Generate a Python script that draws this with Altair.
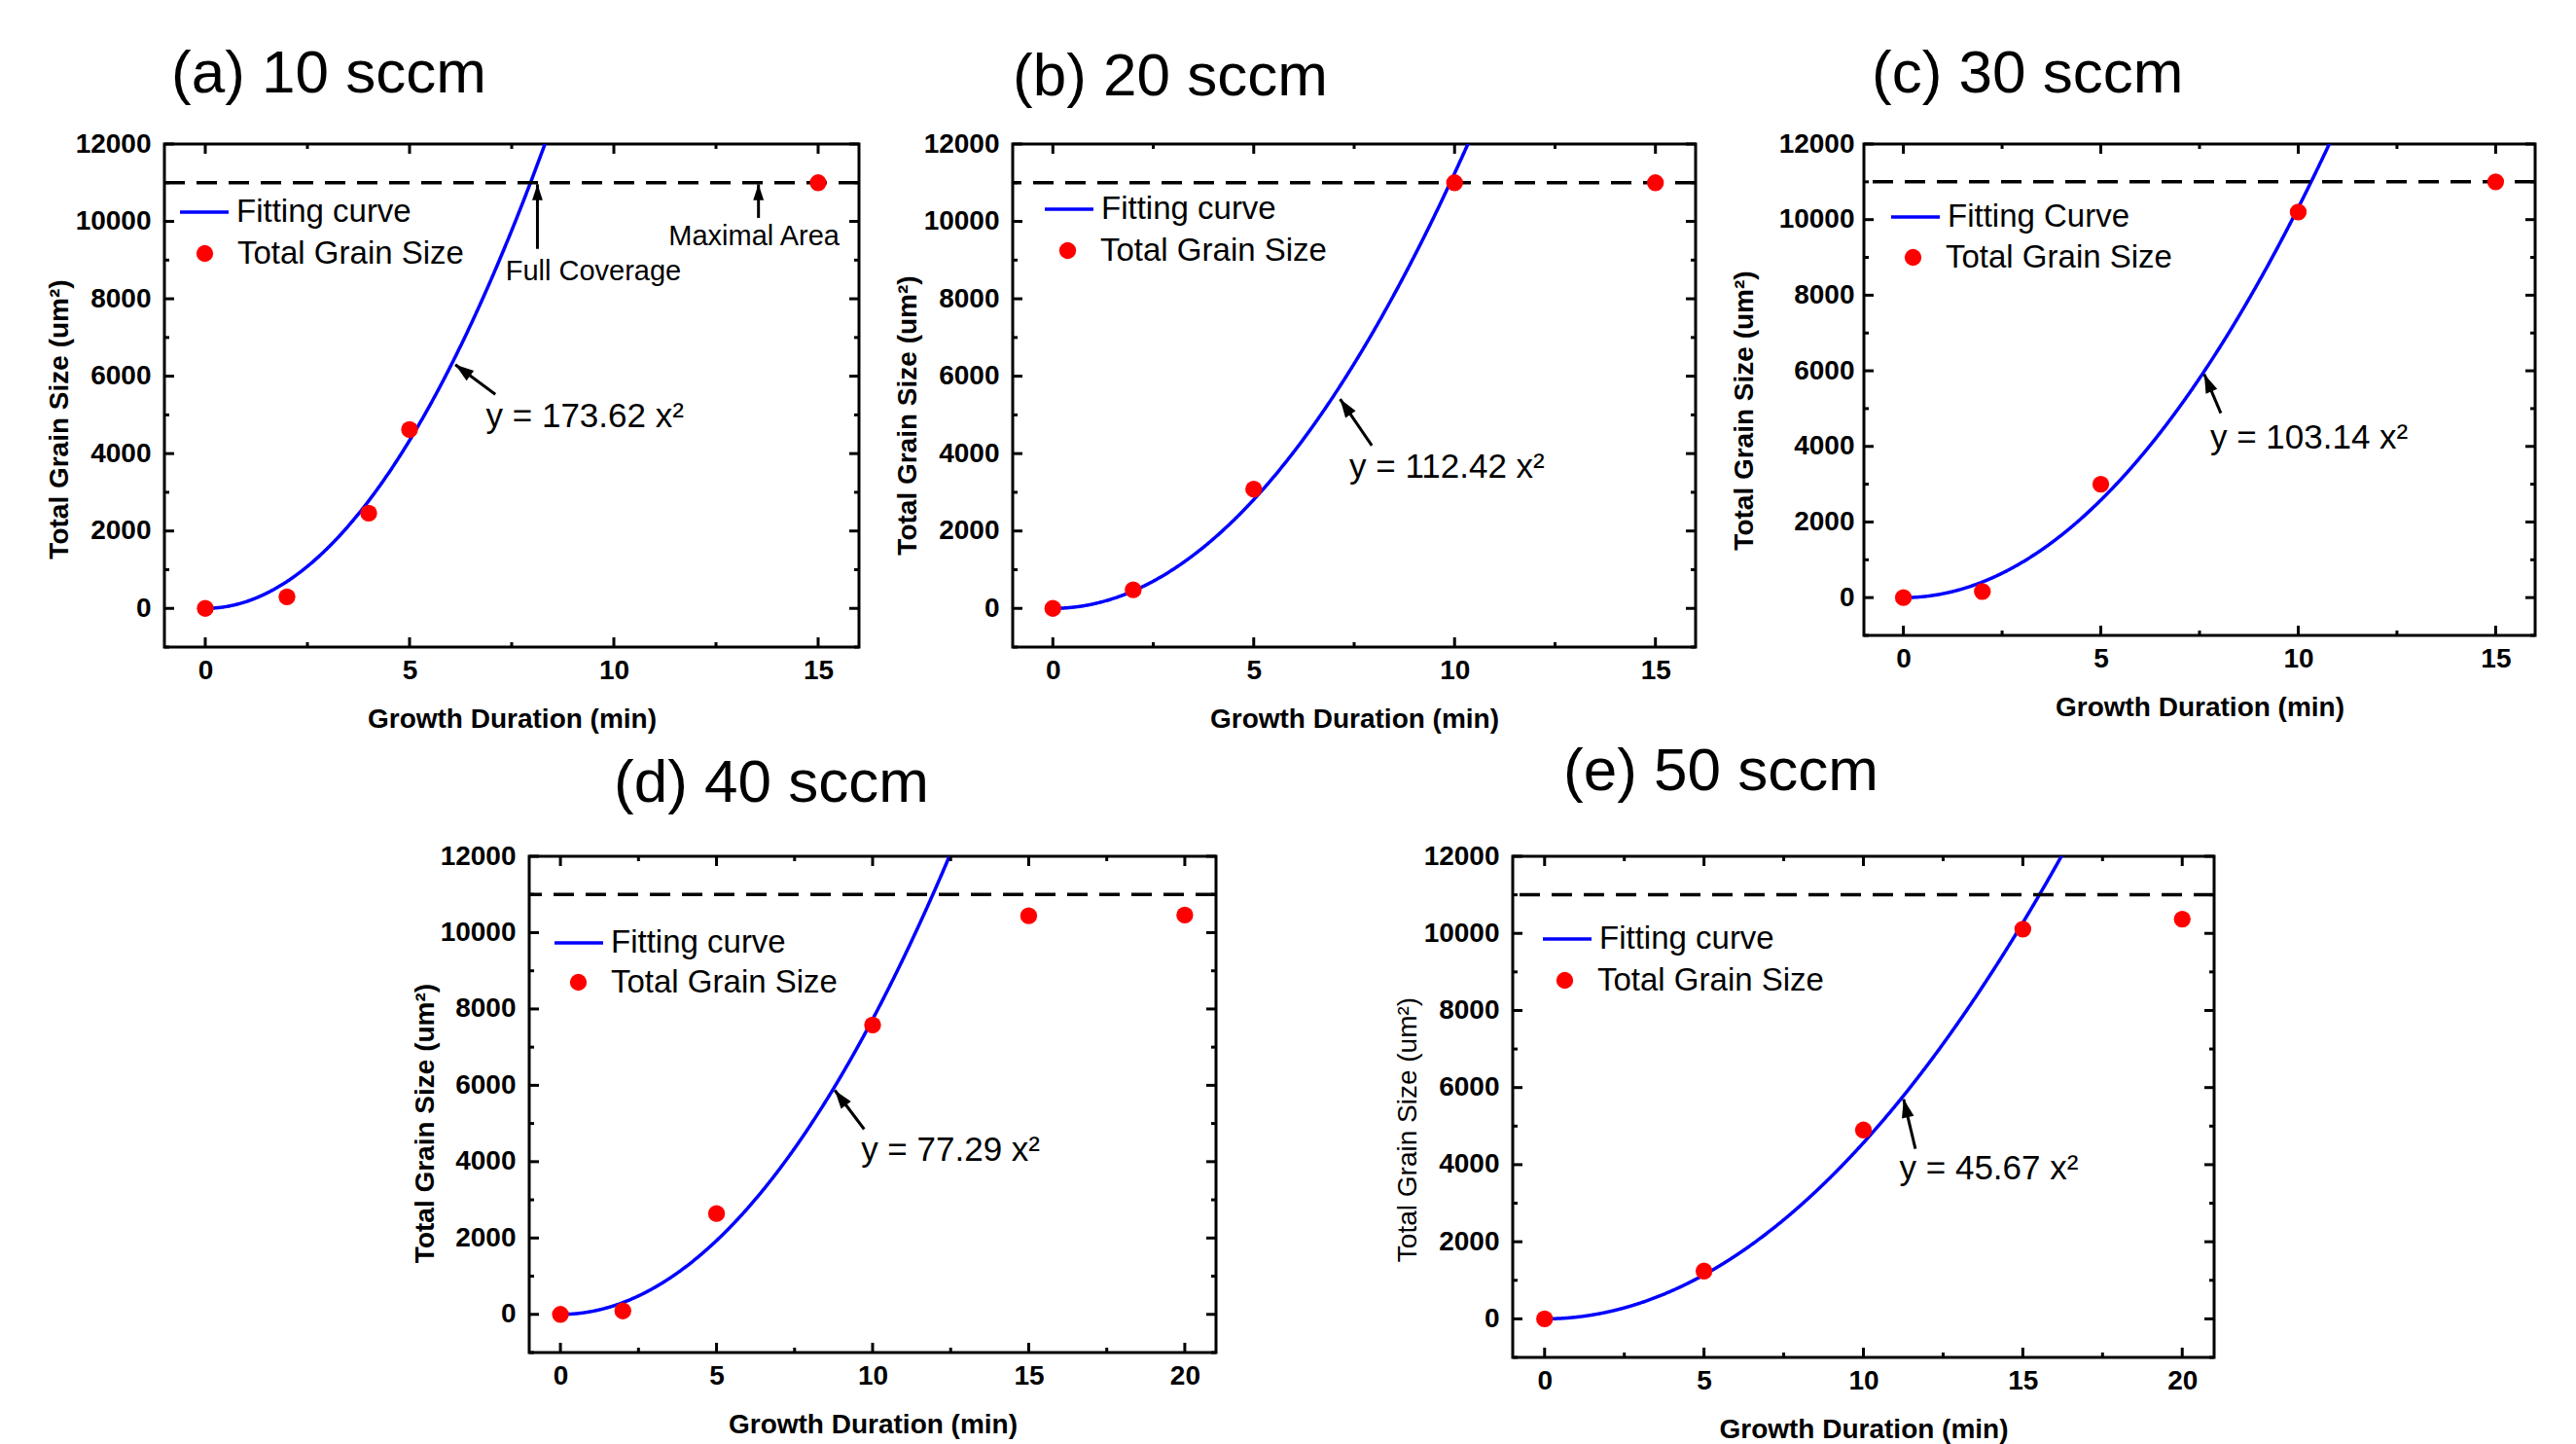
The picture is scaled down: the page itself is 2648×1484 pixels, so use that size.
import math
import altair as alt
import pandas as pd

# ---------------- data ----------------
panel_titles = ["(a) 10 sccm", "(b) 20 sccm", "(c) 30 sccm", "(d) 40 sccm", "(e) 50 sccm"]
fit_coef = [173.62, 112.42, 103.14, 77.29, 45.67]
fit_labels = ["Fitting curve", "Fitting curve", "Fitting Curve", "Fitting curve", "Fitting curve"]
point_label = "Total Grain Size"
eq_labels = ["y = 173.62 x²", "y = 112.42 x²", "y = 103.14 x²", "y = 77.29 x²", "y = 45.67 x²"]

a_time = [0, 2, 4, 5, 15]
a_size = [0, 300, 2460, 4620, 11000]
b_time = [0, 2, 5, 10, 15]
b_size = [0, 480, 3080, 11000, 11000]
c_time = [0, 2, 5, 10, 15]
c_size = [0, 160, 3000, 10200, 11000]
d_time = [0, 2, 5, 10, 15, 20]
d_size = [0, 90, 2640, 7580, 10440, 10460]
e_time = [0, 5, 10, 15, 20]
e_size = [0, 1240, 4900, 10110, 10370]

max_area = [11000]

# equation arrows (data coordinates)
eq_tip_x = [6.12, 7.15, 7.62, 8.79, 11.26]
eq_tip_y = [6300, 5410, 5910, 5870, 5700]
eq_tail_x = [7.10, 7.94, 8.04, 9.73, 11.63]
eq_tail_y = [5530, 4210, 4880, 4850, 4410]
eq_text_x = [6.87, 7.38, 7.77, 9.63, 11.13]
eq_text_y = [4950, 3660, 4230, 4300, 3890]

# extra notes in panel (a)
note_labels = ["Full Coverage", "Maximal Area"]
note_text_x = [7.35, 11.34]
note_text_y = [8700, 9600]
note_arrow_x = [8.13, 13.54]
note_tail_y = [9290, 10090]
note_tip_y = [10960, 10960]

# axis tick values
x_major_15 = [0, 5, 10, 15]
x_minor_15 = [2.5, 7.5, 12.5]
x_major_20 = [0, 5, 10, 15, 20]
x_minor_20 = [2.5, 7.5, 12.5, 17.5]
y_major = [0, 2000, 4000, 6000, 8000, 10000, 12000]
y_minor = [-1000, 1000, 3000, 5000, 7000, 9000, 11000]

# ---------------- styles ----------------
FONT = "Liberation Sans"
BLUE = "#0000FF"
RED = "#FF0000"
ARROW = "M0,0 L-0.6,1.8 L0.6,1.8 Z"

styles = [
    dict(W=714, H=517, xmax=16, dx=7, off=-36, ytw="bold", lx=14, ly=43, px=25, py=96, ytp=2, ylp=14, tyd=24),
    dict(W=702, H=517, xmax=16, dx=0, off=-39, ytw="bold", lx=31, ly=40, px=40, py=93, ytp=2, ylp=14, tyd=20),
    dict(W=690, H=505, xmax=16, dx=8, off=-36, ytw="bold", lx=26, ly=48, px=34, py=100, ytp=21, ylp=10, tyd=21),
    dict(W=706, H=510, xmax=21, dx=87, off=-33, ytw="bold", lx=24, ly=62, px=34, py=113, ytp=1, ylp=14, tyd=19),
    dict(W=721, H=515, xmax=21, dx=52, off=-21, ytw="normal", lx=29, ly=58, px=37, py=111, ytp=2, ylp=14, tyd=23),
]
series = [(a_time, a_size), (b_time, b_size), (c_time, c_size), (d_time, d_size), (e_time, e_size)]


def arrow_angle(x0, y0, x1, y1, st):
    ppx = st["W"] / (st["xmax"] + 1)
    ppy = st["H"] / 13000
    dx = (x1 - x0) * ppx
    dy = -(y1 - y0) * ppy
    return math.degrees(math.atan2(dx, -dy)) % 360


def build_panel(i):
    st = styles[i]
    W, H = st["W"], st["H"]
    times, sizes = series[i]
    xmaj = x_major_15 if st["xmax"] == 16 else x_major_20
    xmin = x_minor_15 if st["xmax"] == 16 else x_minor_20
    xs = alt.Scale(domain=[-1, st["xmax"]], nice=False, zero=False)
    ys = alt.Scale(domain=[-1000, 12000], nice=False, zero=False)
    xaxis = alt.Axis(values=xmaj, title="Growth Duration (min)", grid=False, ticks=False, format="d",
                     domain=False, tickSize=0, labelPadding=10, titlePadding=22)
    yaxis = alt.Axis(values=y_major, title="Total Grain Size (um²)", grid=False, ticks=False, format="d",
                     domain=False, tickSize=0, labelPadding=st["ylp"], titlePadding=st["ytp"],
                     titleFontWeight=st["ytw"], titleY=H / 2 + st["tyd"])

    def X(f):
        return alt.X(f, type="quantitative", scale=xs, axis=xaxis)

    def Y(f):
        return alt.Y(f, type="quantitative", scale=ys, axis=yaxis)

    layers = []
    fl = fit_labels[i]
    curve = (
        alt.Chart(alt.sequence(0, st["xmax"], 0.02, as_="t"))
        .transform_calculate(s=f"{fit_coef[i]} * datum.t * datum.t", series=f"'{fl}'")
        .transform_filter("datum.s <= 12300")
        .mark_line(strokeWidth=3.5, clip=True)
        .encode(
            x=X("t"), y=Y("s"),
            color=alt.Color("series:N", scale=alt.Scale(domain=[fl], range=[BLUE]),
                            legend=alt.Legend(orient="none", legendX=st["lx"], legendY=st["ly"],
                                              title=None, symbolType="stroke", symbolSize=2500,
                                              symbolStrokeWidth=3.5, labelFontSize=33, labelFont=FONT,
                                              labelColor="black", labelOffset=6, padding=0,
                                              labelLimit=600)),
        )
    )
    layers.append(curve)

    rule = (
        alt.Chart(pd.DataFrame({"v": max_area}))
        .mark_rule(color="black", strokeWidth=3.5, strokeDash=[21, 12])
        .encode(y=Y("v"))
    )
    layers.append(rule)

    pts = (
        alt.Chart(pd.DataFrame({"t": times, "s": sizes, "series": [point_label] * len(times)}))
        .mark_circle(size=300, opacity=1)
        .encode(
            x=X("t"), y=Y("s"),
            fill=alt.Fill("series:N", scale=alt.Scale(domain=[point_label], range=[RED]),
                          legend=alt.Legend(orient="none", legendX=st["px"], legendY=st["py"],
                                            title=None, symbolType="circle", symbolSize=300,
                                            labelFontSize=33, labelFont=FONT, labelColor="black",
                                            labelOffset=17, padding=0, symbolStrokeWidth=0,
                                            labelLimit=600)),
        )
    )
    layers.append(pts)

    # inward ticks on all four sides
    for vals, L in ((y_major, 10), (y_minor, 5)):
        d = pd.DataFrame({"v": vals})
        layers.append(alt.Chart(d).mark_rule(color="black", strokeWidth=3)
                      .encode(y=Y("v"), x=alt.value(0), x2=alt.value(L)))
        layers.append(alt.Chart(d).mark_rule(color="black", strokeWidth=3)
                      .encode(y=Y("v"), x=alt.value(W - L), x2=alt.value(W)))
    for vals, L in ((xmaj, 10), (xmin, 5)):
        d = pd.DataFrame({"v": vals})
        layers.append(alt.Chart(d).mark_rule(color="black", strokeWidth=3)
                      .encode(x=X("v"), y=alt.value(H - L), y2=alt.value(H)))
        layers.append(alt.Chart(d).mark_rule(color="black", strokeWidth=3)
                      .encode(x=X("v"), y=alt.value(0), y2=alt.value(L)))

    # equation arrow + label
    arr = pd.DataFrame({"x0": [eq_tail_x[i]], "y0": [eq_tail_y[i]], "x1": [eq_tip_x[i]], "y1": [eq_tip_y[i]]})
    layers.append(alt.Chart(arr).mark_rule(color="black", strokeWidth=3)
                  .encode(x=X("x0"), y=Y("y0"), x2="x1", y2="y1"))
    ang = arrow_angle(eq_tail_x[i], eq_tail_y[i], eq_tip_x[i], eq_tip_y[i], st)
    layers.append(alt.Chart(arr).mark_point(shape=ARROW, size=450, filled=True, color="black",
                                            opacity=1, angle=ang)
                  .encode(x=X("x1"), y=Y("y1")))
    eq = pd.DataFrame({"x": [eq_text_x[i]], "y": [eq_text_y[i]], "label": [eq_labels[i]]})
    layers.append(alt.Chart(eq).mark_text(align="left", baseline="middle", font=FONT, fontSize=35,
                                          color="black")
                  .encode(x=X("x"), y=Y("y"), text="label:N"))

    if i == 0:
        notes = pd.DataFrame({"x": note_text_x, "y": note_text_y, "label": note_labels})
        layers.append(alt.Chart(notes).mark_text(align="left", baseline="middle", font=FONT,
                                                 fontSize=29, color="black")
                      .encode(x=X("x"), y=Y("y"), text="label:N"))
        na = pd.DataFrame({"x": note_arrow_x, "y0": note_tail_y, "y1": note_tip_y})
        layers.append(alt.Chart(na).mark_rule(color="black", strokeWidth=3)
                      .encode(x=X("x"), y=Y("y0"), y2="y1"))
        layers.append(alt.Chart(na).mark_point(shape=ARROW, size=330, filled=True, color="black",
                                               opacity=1, angle=0)
                      .encode(x=X("x"), y=Y("y1")))

    title = alt.TitleParams(panel_titles[i], font=FONT, fontSize=62, fontWeight="normal",
                            anchor="start", frame="group", dx=st["dx"], offset=st["off"],
                            baseline="bottom", color="black")
    return alt.layer(*layers).properties(width=W, height=H, title=title)


panels = [build_panel(i) for i in range(5)]

spacer = (
    alt.Chart(pd.DataFrame({"v": [0]}))
    .mark_point(opacity=0)
    .properties(width=75, height=10, view=alt.ViewBackground(strokeOpacity=0))
)

RS = dict(x="independent", y="independent", color="independent", fill="independent")
RL = dict(color="independent", fill="independent")

row1 = alt.hconcat(panels[0], panels[1], panels[2], spacing=30).resolve_scale(**RS).resolve_legend(**RL)
row2 = alt.hconcat(spacer, panels[3], panels[4], spacing=177).resolve_scale(**RS).resolve_legend(**RL)

chart = (
    alt.vconcat(row1, row2, spacing=5)
    .resolve_scale(**RS)
    .resolve_legend(**RL)
    .properties(padding={"left": 37, "top": 35, "right": 5, "bottom": 5}, background="white")
    .configure_view(stroke="black", strokeWidth=3)
    .configure_axis(labelFont=FONT, labelFontSize=28, labelFontWeight="bold", labelColor="black",
                    titleFont=FONT, titleFontSize=28, titleFontWeight="bold", titleColor="black")
)

chart.save("out.html", embed_options={"renderer": "svg", "actions": False})
